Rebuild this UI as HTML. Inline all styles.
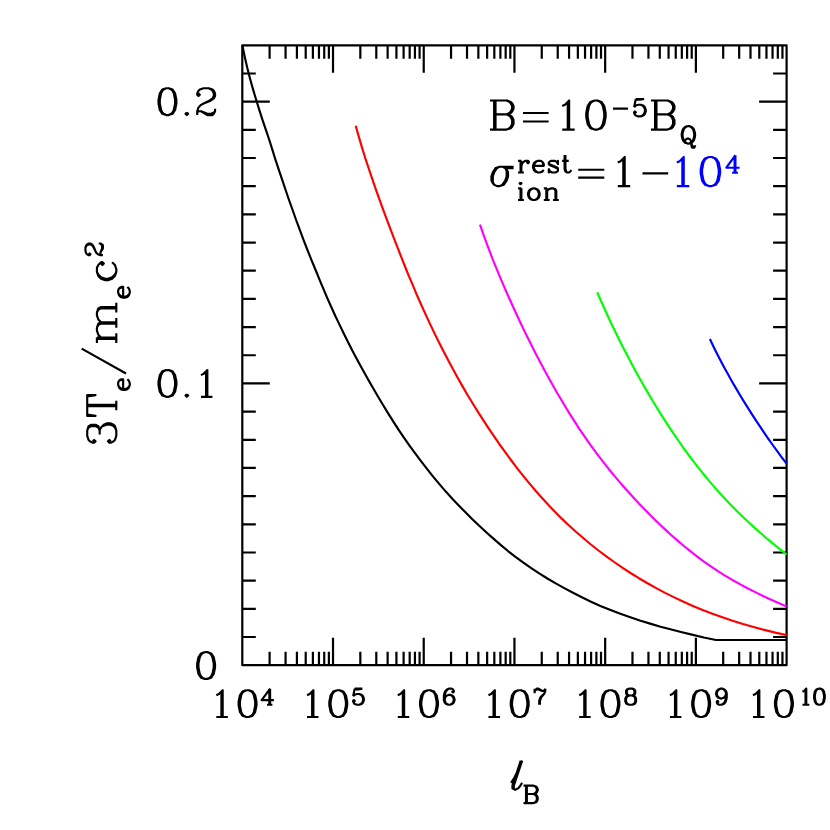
<!DOCTYPE html>
<html><head><meta charset="utf-8"><style>
html,body{margin:0;padding:0;background:#fff;}
svg{display:block;}
</style></head><body>
<svg width="830" height="830" viewBox="0 0 830 830">
<rect width="830" height="830" fill="#fff"/>
<rect x="242.3" y="45.3" width="544.30" height="619.90" fill="none" stroke="#000" stroke-width="2.2" stroke-linejoin="round"/>
<path d="M269.61 665.2v-13.5M269.61 45.3v13.5M285.58 665.2v-13.5M285.58 45.3v13.5M296.92 665.2v-13.5M296.92 45.3v13.5M305.71 665.2v-13.5M305.71 45.3v13.5M312.89 665.2v-13.5M312.89 45.3v13.5M318.96 665.2v-13.5M318.96 45.3v13.5M324.23 665.2v-13.5M324.23 45.3v13.5M328.87 665.2v-13.5M328.87 45.3v13.5M333.02 665.2v-27.5M333.02 45.3v27.5M360.33 665.2v-13.5M360.33 45.3v13.5M376.30 665.2v-13.5M376.30 45.3v13.5M387.63 665.2v-13.5M387.63 45.3v13.5M396.42 665.2v-13.5M396.42 45.3v13.5M403.61 665.2v-13.5M403.61 45.3v13.5M409.68 665.2v-13.5M409.68 45.3v13.5M414.94 665.2v-13.5M414.94 45.3v13.5M419.58 665.2v-13.5M419.58 45.3v13.5M423.73 665.2v-27.5M423.73 45.3v27.5M451.04 665.2v-13.5M451.04 45.3v13.5M467.02 665.2v-13.5M467.02 45.3v13.5M478.35 665.2v-13.5M478.35 45.3v13.5M487.14 665.2v-13.5M487.14 45.3v13.5M494.32 665.2v-13.5M494.32 45.3v13.5M500.40 665.2v-13.5M500.40 45.3v13.5M505.66 665.2v-13.5M505.66 45.3v13.5M510.30 665.2v-13.5M510.30 45.3v13.5M514.45 665.2v-27.5M514.45 45.3v27.5M541.76 665.2v-13.5M541.76 45.3v13.5M557.73 665.2v-13.5M557.73 45.3v13.5M569.07 665.2v-13.5M569.07 45.3v13.5M577.86 665.2v-13.5M577.86 45.3v13.5M585.04 665.2v-13.5M585.04 45.3v13.5M591.11 665.2v-13.5M591.11 45.3v13.5M596.38 665.2v-13.5M596.38 45.3v13.5M601.02 665.2v-13.5M601.02 45.3v13.5M605.17 665.2v-27.5M605.17 45.3v27.5M632.48 665.2v-13.5M632.48 45.3v13.5M648.45 665.2v-13.5M648.45 45.3v13.5M659.78 665.2v-13.5M659.78 45.3v13.5M668.57 665.2v-13.5M668.57 45.3v13.5M675.76 665.2v-13.5M675.76 45.3v13.5M681.83 665.2v-13.5M681.83 45.3v13.5M687.09 665.2v-13.5M687.09 45.3v13.5M691.73 665.2v-13.5M691.73 45.3v13.5M695.88 665.2v-27.5M695.88 45.3v27.5M723.19 665.2v-13.5M723.19 45.3v13.5M739.17 665.2v-13.5M739.17 45.3v13.5M750.50 665.2v-13.5M750.50 45.3v13.5M759.29 665.2v-13.5M759.29 45.3v13.5M766.47 665.2v-13.5M766.47 45.3v13.5M772.55 665.2v-13.5M772.55 45.3v13.5M777.81 665.2v-13.5M777.81 45.3v13.5M782.45 665.2v-13.5M782.45 45.3v13.5M242.3 637.02h13.5M786.6 637.02h-13.5M242.3 608.85h13.5M786.6 608.85h-13.5M242.3 580.67h13.5M786.6 580.67h-13.5M242.3 552.49h13.5M786.6 552.49h-13.5M242.3 524.31h13.5M786.6 524.31h-13.5M242.3 496.14h13.5M786.6 496.14h-13.5M242.3 467.96h13.5M786.6 467.96h-13.5M242.3 439.78h13.5M786.6 439.78h-13.5M242.3 411.60h13.5M786.6 411.60h-13.5M242.3 383.43h27.5M786.6 383.43h-27.5M242.3 355.25h13.5M786.6 355.25h-13.5M242.3 327.07h13.5M786.6 327.07h-13.5M242.3 298.90h13.5M786.6 298.90h-13.5M242.3 270.72h13.5M786.6 270.72h-13.5M242.3 242.54h13.5M786.6 242.54h-13.5M242.3 214.36h13.5M786.6 214.36h-13.5M242.3 186.19h13.5M786.6 186.19h-13.5M242.3 158.01h13.5M786.6 158.01h-13.5M242.3 129.83h13.5M786.6 129.83h-13.5M242.3 101.65h27.5M786.6 101.65h-27.5M242.3 73.48h13.5M786.6 73.48h-13.5" fill="none" stroke="#000" stroke-width="2.2"/>
<polyline points="242.4,45.4 244.7,56.6 247.2,67.6 250.0,78.4 252.9,88.9 256.0,99.3 259.2,109.6 262.5,119.8 265.9,129.9 269.3,140.0 272.5,150.1 275.6,160.2 279.0,170.3 282.4,180.4 285.8,190.5 289.2,200.5 292.8,210.5 296.3,220.5 300.0,230.4 303.7,240.3 307.5,250.1 311.4,259.8 315.4,269.5 319.3,279.2 323.3,288.7 327.3,298.1 331.5,307.5 335.7,316.8 340.1,325.9 344.5,335.0 349.0,344.0 353.6,352.9 358.3,361.7 363.1,370.4 367.9,379.1 372.9,387.7 377.8,396.2 382.9,404.7 388.0,413.1 393.2,421.4 398.5,429.6 403.9,437.6 409.5,445.6 415.2,453.4 421.0,461.1 427.0,468.9 433.1,476.6 439.4,484.1 445.8,491.6 452.3,498.7 459.0,505.7 465.7,512.6 472.6,519.4 479.5,526.0 486.5,532.5 493.7,538.9 500.9,545.1 508.3,551.3 515.8,557.1 523.4,562.7 531.2,568.1 539.2,573.4 547.4,578.5 555.7,583.4 564.3,588.1 573.0,592.7 581.9,597.3 591.0,601.7 600.4,605.9 609.9,609.8 619.7,613.6 629.6,617.1 639.8,620.5 650.1,623.6 660.6,626.7 671.3,629.5 682.0,632.3 692.9,634.9 703.8,637.5 716.0,640.0 786.6,640.0" fill="none" stroke="#000000" stroke-width="2.15" stroke-linejoin="round"/>
<polyline points="355.7,125.7 358.7,136.4 361.8,146.9 365.0,157.3 368.4,167.5 371.8,177.7 375.3,187.8 378.9,197.9 382.5,207.9 386.2,217.8 389.9,227.7 393.7,237.6 397.5,247.4 401.3,257.2 405.2,267.0 409.1,276.6 413.2,286.2 417.2,295.8 421.4,305.2 425.7,314.6 430.0,323.9 434.4,333.1 438.9,342.2 443.5,351.3 448.2,360.2 452.9,369.1 457.8,377.9 462.7,386.6 467.7,395.2 472.9,403.7 478.1,412.1 483.4,420.4 488.8,428.6 494.3,436.7 499.9,444.8 505.6,452.7 511.3,460.5 517.2,468.3 523.2,475.9 529.4,483.4 535.6,490.8 542.0,498.0 548.5,505.1 555.2,512.1 562.0,518.9 569.0,525.5 576.2,532.0 583.5,538.3 590.9,544.5 598.5,550.5 606.3,556.3 614.2,562.0 622.3,567.6 630.5,573.0 638.9,578.2 647.5,583.2 656.2,588.1 665.1,592.9 674.2,597.4 683.5,601.8 692.9,605.9 702.6,609.9 712.4,613.7 722.4,617.3 732.6,620.8 743.0,624.0 753.6,627.0 764.3,629.9 775.3,632.6 786.6,635.1" fill="none" stroke="#ff0000" stroke-width="2.15" stroke-linejoin="round"/>
<polyline points="480.0,224.6 483.0,233.3 486.1,241.8 489.3,250.3 492.5,258.8 495.9,267.1 499.3,275.4 502.8,283.6 506.3,291.7 509.9,299.8 513.5,307.8 517.2,315.8 520.9,323.7 524.7,331.6 528.6,339.4 532.5,347.2 536.4,354.9 540.4,362.6 544.5,370.2 548.6,377.8 552.8,385.3 557.0,392.7 561.4,400.0 565.7,407.3 570.2,414.6 574.7,421.7 579.3,428.8 584.0,435.7 588.8,442.6 593.7,449.4 598.7,456.1 603.8,462.7 608.9,469.2 614.2,475.6 619.5,481.9 625.0,488.2 630.5,494.3 636.1,500.4 641.8,506.4 647.5,512.3 653.4,518.2 659.3,523.9 665.3,529.6 671.4,535.2 677.6,540.6 683.9,546.0 690.3,551.2 696.9,556.3 703.6,561.3 710.5,566.1 717.5,570.8 724.6,575.3 731.9,579.7 739.4,583.9 747.0,588.0 754.7,591.9 762.5,595.7 770.5,599.4 778.6,603.0 786.6,606.5" fill="none" stroke="#ff00ff" stroke-width="2.15" stroke-linejoin="round"/>
<polyline points="597.2,292.2 600.7,300.3 604.3,308.3 607.9,316.3 611.6,324.2 615.4,332.0 619.2,339.7 623.1,347.5 627.1,355.1 631.1,362.7 635.1,370.2 639.3,377.7 643.4,385.1 647.7,392.4 652.0,399.7 656.4,407.0 660.8,414.1 665.3,421.2 669.9,428.2 674.6,435.1 679.3,442.0 684.1,448.8 689.0,455.5 694.0,462.1 699.1,468.6 704.2,475.0 709.5,481.4 714.9,487.6 720.3,493.7 725.9,499.8 731.6,505.7 737.3,511.5 743.2,517.2 749.2,522.8 755.2,528.4 761.4,533.8 767.6,539.2 774.0,544.4 780.4,549.6 786.6,554.5" fill="none" stroke="#00ff00" stroke-width="2.15" stroke-linejoin="round"/>
<polyline points="709.9,339.0 713.3,346.2 716.8,353.3 720.4,360.3 724.1,367.2 727.9,374.1 731.7,380.9 735.6,387.6 739.5,394.2 743.5,400.9 747.6,407.4 751.7,413.9 755.9,420.3 760.1,426.7 764.4,433.1 768.7,439.3 773.1,445.5 777.6,451.7 782.1,457.8 786.6,463.7" fill="none" stroke="#0000ff" stroke-width="2.15" stroke-linejoin="round"/>
<path d="M216.31 695.33L218.86 694.05L222.69 690.23L222.69 717.00M221.41 691.50L221.41 717.00M216.31 717.00L227.79 717.00M246.28 690.23L242.45 691.50L239.90 695.33L238.62 701.70L238.62 705.52L239.90 711.90L242.45 715.73L246.28 717.00L248.83 717.00L252.65 715.73L255.20 711.90L256.48 705.52L256.48 701.70L255.20 695.33L252.65 691.50L248.83 690.23L246.28 690.23M246.28 690.23L243.73 691.50L242.45 692.77L241.18 695.33L239.90 701.70L239.90 705.52L241.18 711.90L242.45 714.45L243.73 715.73L246.28 717.00M248.83 717.00L251.38 715.73L252.65 714.45L253.93 711.90L255.20 705.52L255.20 701.70L253.93 695.33L252.65 692.77L251.38 691.50L248.83 690.23M269.33 690.17L269.33 704.70M270.10 688.63L270.10 704.70M270.10 688.63L261.68 700.11L273.92 700.11M267.04 704.70L272.39 704.70M307.03 695.33L309.58 694.05L313.40 690.23L313.40 717.00M312.13 691.50L312.13 717.00M307.03 717.00L318.50 717.00M336.99 690.23L333.17 691.50L330.62 695.33L329.34 701.70L329.34 705.52L330.62 711.90L333.17 715.73L336.99 717.00L339.54 717.00L343.37 715.73L345.92 711.90L347.19 705.52L347.19 701.70L345.92 695.33L343.37 691.50L339.54 690.23L336.99 690.23M336.99 690.23L334.44 691.50L333.17 692.77L331.89 695.33L330.62 701.70L330.62 705.52L331.89 711.90L333.17 714.45L334.44 715.73L336.99 717.00M339.54 717.00L342.09 715.73L343.37 714.45L344.64 711.90L345.92 705.52L345.92 701.70L344.64 695.33L343.37 692.77L342.09 691.50L339.54 690.23M354.69 688.63L353.16 696.29M353.16 696.29L354.69 694.75L356.99 693.99L359.28 693.99L361.58 694.75L363.11 696.29L363.87 698.58L363.87 700.11L363.11 702.41L361.58 703.94L359.28 704.70L356.99 704.70L354.69 703.94L353.93 703.17L353.16 701.64L353.16 700.88L353.93 700.11L354.69 700.88L353.93 701.64M359.28 693.99L360.81 694.75L362.34 696.29L363.11 698.58L363.11 700.11L362.34 702.41L360.81 703.94L359.28 704.70M354.69 688.63L362.34 688.63M354.69 689.40L358.52 689.40L362.34 688.63M397.75 695.33L400.30 694.05L404.12 690.23L404.12 717.00M402.85 691.50L402.85 717.00M397.75 717.00L409.22 717.00M427.71 690.23L423.88 691.50L421.33 695.33L420.06 701.70L420.06 705.52L421.33 711.90L423.88 715.73L427.71 717.00L430.26 717.00L434.08 715.73L436.63 711.90L437.91 705.52L437.91 701.70L436.63 695.33L434.08 691.50L430.26 690.23L427.71 690.23M427.71 690.23L425.16 691.50L423.88 692.77L422.61 695.33L421.33 701.70L421.33 705.52L422.61 711.90L423.88 714.45L425.16 715.73L427.71 717.00M430.26 717.00L432.81 715.73L434.08 714.45L435.36 711.90L436.63 705.52L436.63 701.70L435.36 695.33L434.08 692.77L432.81 691.50L430.26 690.23M453.06 690.93L452.29 691.70L453.06 692.46L453.82 691.70L453.82 690.93L453.06 689.40L451.53 688.63L449.23 688.63L446.94 689.40L445.41 690.93L444.64 692.46L443.88 695.52L443.88 700.11L444.64 702.41L446.17 703.94L448.47 704.70L450.00 704.70L452.29 703.94L453.82 702.41L454.59 700.11L454.59 699.35L453.82 697.05L452.29 695.52L450.00 694.75L449.23 694.75L446.94 695.52L445.41 697.05L444.64 699.35M449.23 688.63L447.70 689.40L446.17 690.93L445.41 692.46L444.64 695.52L444.64 700.11L445.41 702.41L446.94 703.94L448.47 704.70M450.00 704.70L451.53 703.94L453.06 702.41L453.82 700.11L453.82 699.35L453.06 697.05L451.53 695.52L450.00 694.75M488.46 695.33L491.01 694.05L494.84 690.23L494.84 717.00M493.56 691.50L493.56 717.00M488.46 717.00L499.94 717.00M518.43 690.23L514.60 691.50L512.05 695.33L510.78 701.70L510.78 705.52L512.05 711.90L514.60 715.73L518.43 717.00L520.98 717.00L524.80 715.73L527.35 711.90L528.62 705.52L528.62 701.70L527.35 695.33L524.80 691.50L520.98 690.23L518.43 690.23M518.43 690.23L515.88 691.50L514.60 692.77L513.33 695.33L512.05 701.70L512.05 705.52L513.33 711.90L514.60 714.45L515.88 715.73L518.43 717.00M520.98 717.00L523.53 715.73L524.80 714.45L526.08 711.90L527.35 705.52L527.35 701.70L526.08 695.33L524.80 692.77L523.53 691.50L520.98 690.23M534.60 688.63L534.60 693.23M534.60 691.70L535.36 690.17L536.89 688.63L538.42 688.63L542.25 690.93L543.78 690.93L544.54 690.17L545.31 688.63M535.36 690.17L536.89 689.40L538.42 689.40L542.25 690.93M545.31 688.63L545.31 690.93L544.54 693.23L541.48 697.05L540.72 698.58L539.95 700.88L539.95 704.70M544.54 693.23L540.72 697.05L539.95 698.58L539.19 700.88L539.19 704.70M579.18 695.33L581.73 694.05L585.55 690.23L585.55 717.00M584.28 691.50L584.28 717.00M579.18 717.00L590.65 717.00M609.14 690.23L605.32 691.50L602.77 695.33L601.49 701.70L601.49 705.52L602.77 711.90L605.32 715.73L609.14 717.00L611.69 717.00L615.52 715.73L618.07 711.90L619.34 705.52L619.34 701.70L618.07 695.33L615.52 691.50L611.69 690.23L609.14 690.23M609.14 690.23L606.59 691.50L605.32 692.77L604.04 695.33L602.77 701.70L602.77 705.52L604.04 711.90L605.32 714.45L606.59 715.73L609.14 717.00M611.69 717.00L614.24 715.73L615.52 714.45L616.79 711.90L618.07 705.52L618.07 701.70L616.79 695.33L615.52 692.77L614.24 691.50L611.69 690.23M629.14 688.63L626.84 689.40L626.08 690.93L626.08 693.23L626.84 694.75L629.14 695.52L632.20 695.52L634.49 694.75L635.26 693.23L635.26 690.93L634.49 689.40L632.20 688.63L629.14 688.63M629.14 688.63L627.61 689.40L626.84 690.93L626.84 693.23L627.61 694.75L629.14 695.52M632.20 695.52L633.73 694.75L634.49 693.23L634.49 690.93L633.73 689.40L632.20 688.63M629.14 695.52L626.84 696.29L626.08 697.05L625.31 698.58L625.31 701.64L626.08 703.17L626.84 703.94L629.14 704.70L632.20 704.70L634.49 703.94L635.26 703.17L636.02 701.64L636.02 698.58L635.26 697.05L634.49 696.29L632.20 695.52M629.14 695.52L627.61 696.29L626.84 697.05L626.08 698.58L626.08 701.64L626.84 703.17L627.61 703.94L629.14 704.70M632.20 704.70L633.73 703.94L634.49 703.17L635.26 701.64L635.26 698.58L634.49 697.05L633.73 696.29L632.20 695.52M669.90 695.33L672.45 694.05L676.27 690.23L676.27 717.00M675.00 691.50L675.00 717.00M669.90 717.00L681.37 717.00M699.86 690.23L696.03 691.50L693.48 695.33L692.21 701.70L692.21 705.52L693.48 711.90L696.03 715.73L699.86 717.00L702.41 717.00L706.23 715.73L708.78 711.90L710.06 705.52L710.06 701.70L708.78 695.33L706.23 691.50L702.41 690.23L699.86 690.23M699.86 690.23L697.31 691.50L696.03 692.77L694.76 695.33L693.48 701.70L693.48 705.52L694.76 711.90L696.03 714.45L697.31 715.73L699.86 717.00M702.41 717.00L704.96 715.73L706.23 714.45L707.51 711.90L708.78 705.52L708.78 701.70L707.51 695.33L706.23 692.77L704.96 691.50L702.41 690.23M725.97 693.99L725.21 696.29L723.68 697.82L721.38 698.58L720.62 698.58L718.32 697.82L716.79 696.29L716.03 693.99L716.03 693.23L716.79 690.93L718.32 689.40L720.62 688.63L722.15 688.63L724.44 689.40L725.97 690.93L726.74 693.23L726.74 697.82L725.97 700.88L725.21 702.41L723.68 703.94L721.38 704.70L719.09 704.70L717.56 703.94L716.79 702.41L716.79 701.64L717.56 700.88L718.32 701.64L717.56 702.41M720.62 698.58L719.09 697.82L717.56 696.29L716.79 693.99L716.79 693.23L717.56 690.93L719.09 689.40L720.62 688.63M722.15 688.63L723.68 689.40L725.21 690.93L725.97 693.23L725.97 697.82L725.21 700.88L724.44 702.41L722.91 703.94L721.38 704.70M752.96 695.33L755.51 694.05L759.34 690.23L759.34 717.00M758.06 691.50L758.06 717.00M752.96 717.00L764.44 717.00M782.62 690.23L778.80 691.50L776.25 695.33L774.98 701.70L774.98 705.52L776.25 711.90L778.80 715.73L782.62 717.00L785.17 717.00L789.00 715.73L791.55 711.90L792.82 705.52L792.82 701.70L791.55 695.33L789.00 691.50L785.17 690.23L782.62 690.23M782.62 690.23L780.07 691.50L778.80 692.77L777.52 695.33L776.25 701.70L776.25 705.52L777.52 711.90L778.80 714.45L780.07 715.73L782.62 717.00M785.17 717.00L787.73 715.73L789.00 714.45L790.27 711.90L791.55 705.52L791.55 701.70L790.27 695.33L789.00 692.77L787.73 691.50L785.17 690.23M802.46 691.70L803.99 690.93L806.28 688.63L806.28 704.70M805.52 689.40L805.52 704.70M802.46 704.70L809.34 704.70M818.69 688.63L816.39 689.40L814.86 691.70L814.10 695.52L814.10 697.82L814.86 701.64L816.39 703.94L818.69 704.70L820.22 704.70L822.51 703.94L824.04 701.64L824.81 697.82L824.81 695.52L824.04 691.70L822.51 689.40L820.22 688.63L818.69 688.63M818.69 688.63L817.16 689.40L816.39 690.17L815.62 691.70L814.86 695.52L814.86 697.82L815.62 701.64L816.39 703.17L817.16 703.94L818.69 704.70M820.22 704.70L821.75 703.94L822.51 703.17L823.28 701.64L824.04 697.82L824.04 695.52L823.28 691.70L822.51 690.17L821.75 689.40L820.22 688.63M166.17 88.28L162.35 89.55L159.80 93.38L158.52 99.75L158.52 103.58L159.80 109.95L162.35 113.78L166.17 115.05L168.72 115.05L172.55 113.78L175.10 109.95L176.38 103.58L176.38 99.75L175.10 93.38L172.55 89.55L168.72 88.28L166.17 88.28M166.17 88.28L163.62 89.55L162.35 90.83L161.07 93.38L159.80 99.75L159.80 103.58L161.07 109.95L162.35 112.50L163.62 113.78L166.17 115.05M168.72 115.05L171.27 113.78L172.55 112.50L173.82 109.95L175.10 103.58L175.10 99.75L173.82 93.38L172.55 90.83L171.27 89.55L168.72 88.28M186.80 112.50L185.53 113.78L186.80 115.05L188.08 113.78L186.80 112.50M166.17 370.05L162.35 371.33L159.80 375.15L158.52 381.53L158.52 385.35L159.80 391.73L162.35 395.55L166.17 396.83L168.72 396.83L172.55 395.55L175.10 391.73L176.38 385.35L176.38 381.53L175.10 375.15L172.55 371.33L168.72 370.05L166.17 370.05M166.17 370.05L163.62 371.33L162.35 372.60L161.07 375.15L159.80 381.53L159.80 385.35L161.07 391.73L162.35 394.28L163.62 395.55L166.17 396.83M168.72 396.83L171.27 395.55L172.55 394.28L173.82 391.73L175.10 385.35L175.10 381.53L173.82 375.15L172.55 372.60L171.27 371.33L168.72 370.05M186.80 394.28L185.53 395.55L186.80 396.83L188.08 395.55L186.80 394.28M198.50 93.38L199.78 94.65L198.50 95.93L197.22 94.65L197.22 93.38L198.50 90.83L199.78 89.55L203.60 88.28L208.70 88.28L212.53 89.55L213.80 90.83L215.08 93.38L215.08 95.93L213.80 98.48L209.97 101.03L203.60 103.58L201.05 104.85L198.50 107.40L197.22 111.23L197.22 115.05M208.70 88.28L211.25 89.55L212.53 90.83L213.80 93.38L213.80 95.93L212.53 98.48L208.70 101.03L203.60 103.58M197.22 112.50L198.50 111.23L201.05 111.23L207.43 113.78L211.25 113.78L213.80 112.50L215.08 111.23M201.05 111.23L207.43 115.05L212.53 115.05L213.80 113.78L215.08 111.23L215.08 108.68M200.96 375.15L203.51 373.88L207.34 370.05L207.34 396.83M206.06 371.33L206.06 396.83M200.96 396.83L212.44 396.83M204.82 652.13L201.00 653.40L198.45 657.23L197.17 663.60L197.17 667.43L198.45 673.80L201.00 677.63L204.82 678.90L207.38 678.90L211.20 677.63L213.75 673.80L215.03 667.43L215.03 663.60L213.75 657.23L211.20 653.40L207.38 652.13L204.82 652.13M204.82 652.13L202.28 653.40L201.00 654.68L199.72 657.23L198.45 663.60L198.45 667.43L199.72 673.80L201.00 676.35L202.28 677.63L204.82 678.90M207.38 678.90L209.92 677.63L211.20 676.35L212.47 673.80L213.75 667.43L213.75 663.60L212.47 657.23L211.20 654.68L209.92 653.40L207.38 652.13" fill="none" stroke="#000" stroke-width="2.15" stroke-linejoin="round" stroke-linecap="butt"/>
<path d="M92.75 441.36L94.14 439.98L95.53 441.36L94.14 442.75L92.75 442.75L89.98 441.36L88.60 439.98L87.22 435.82L87.22 430.28L88.60 426.12L91.37 424.74L95.53 424.74L98.30 426.12L99.68 430.28L99.68 434.44M87.22 430.28L88.60 427.51L91.37 426.12L95.53 426.12L98.30 427.51L99.68 430.28M99.68 430.28L101.06 427.51L103.83 424.74L106.60 423.36L110.76 423.36L113.53 424.74L114.91 426.12L116.30 430.28L116.30 435.82L114.91 439.98L113.53 441.36L110.76 442.75L109.38 442.75L107.99 441.36L109.38 439.98L110.76 441.36M102.45 426.12L106.60 424.74L110.76 424.74L113.53 426.12L114.91 427.51L116.30 430.28M87.22 406.19L116.30 406.19M87.22 404.81L116.30 404.81M87.22 414.50L95.53 415.89L87.22 415.89L87.22 395.11L95.53 395.11L87.22 396.50M116.30 410.35L116.30 400.65M123.15 389.17L123.15 379.20L121.49 379.20L119.83 380.03L119.00 380.86L118.17 382.52L118.17 385.02L119.00 387.51L120.66 389.17L123.15 390.00L124.81 390.00L127.31 389.17L128.97 387.51L129.80 385.02L129.80 383.35L128.97 380.86L127.31 379.20M123.15 380.03L120.66 380.03L119.00 380.86M118.17 385.02L119.00 386.68L120.66 388.34L123.15 389.17L124.81 389.17L127.31 388.34L128.97 386.68L129.80 385.02M81.67 348.64L126.00 373.56M96.91 338.88L116.30 338.88M96.91 337.49L116.30 337.49M101.06 337.49L98.30 334.72L96.91 330.57L96.91 327.80L98.30 323.64L101.06 322.26L116.30 322.26M96.91 327.80L98.30 325.03L101.06 323.64L116.30 323.64M101.06 322.26L98.30 319.49L96.91 315.33L96.91 312.56L98.30 308.41L101.06 307.02L116.30 307.02M96.91 312.56L98.30 309.79L101.06 308.41L116.30 308.41M96.91 343.03L96.91 337.49M116.30 343.03L116.30 333.34M116.30 327.80L116.30 318.10M116.30 312.56L116.30 302.87M123.15 296.87L123.15 286.90L121.49 286.90L119.83 287.73L119.00 288.56L118.17 290.22L118.17 292.72L119.00 295.21L120.66 296.87L123.15 297.70L124.81 297.70L127.31 296.87L128.97 295.21L129.80 292.72L129.80 291.05L128.97 288.56L127.31 286.90M123.15 287.73L120.66 287.73L119.00 288.56M118.17 292.72L119.00 294.38L120.66 296.04L123.15 296.87L124.81 296.87L127.31 296.04L128.97 294.38L129.80 292.72M101.06 263.53L102.45 264.92L103.83 263.53L102.45 262.15L101.06 262.15L98.30 264.92L96.91 267.69L96.91 271.84L98.30 276.00L101.06 278.77L105.22 280.15L107.99 280.15L112.14 278.77L114.91 276.00L116.30 271.84L116.30 269.07L114.91 264.92L112.14 262.15M96.91 271.84L98.30 274.61L101.06 277.38L105.22 278.77L107.99 278.77L112.14 277.38L114.91 274.61L116.30 271.84M88.77 254.34L89.60 253.50L90.43 254.34L89.60 255.17L88.77 255.17L87.11 254.34L86.28 253.50L85.45 251.01L85.45 247.69L86.28 245.19L87.11 244.36L88.77 243.53L90.43 243.53L92.10 244.36L93.76 246.86L95.42 251.01L96.25 252.67L97.91 254.34L100.41 255.17L102.90 255.17M85.45 247.69L86.28 246.03L87.11 245.19L88.77 244.36L90.43 244.36L92.10 245.19L93.76 247.69L95.42 251.01M101.24 255.17L100.41 254.34L100.41 252.67L102.07 248.52L102.07 246.03L101.24 244.36L100.41 243.53M100.41 252.67L102.90 248.52L102.90 245.19L102.07 244.36L100.41 243.53L98.74 243.53" fill="none" stroke="#000" stroke-width="2.15" stroke-linejoin="round" stroke-linecap="butt"/>
<path d="M494.13 100.51L494.13 129.60M495.52 100.51L495.52 129.60M489.98 100.51L506.60 100.51L510.75 101.90L512.14 103.28L513.52 106.05L513.52 108.82L512.14 111.59L510.75 112.98L506.60 114.36M506.60 100.51L509.37 101.90L510.75 103.28L512.14 106.05L512.14 108.82L510.75 111.59L509.37 112.98L506.60 114.36M495.52 114.36L506.60 114.36L510.75 115.75L512.14 117.13L513.52 119.91L513.52 124.06L512.14 126.83L510.75 128.22L506.60 129.60L489.98 129.60M506.60 114.36L509.37 115.75L510.75 117.13L512.14 119.91L512.14 124.06L510.75 126.83L509.37 128.22L506.60 129.60M562.22 106.05L564.99 104.67L569.14 100.51L569.14 129.60M567.76 101.90L567.76 129.60M562.22 129.60L574.68 129.60M594.57 100.51L590.41 101.90L587.64 106.05L586.25 112.98L586.25 117.13L587.64 124.06L590.41 128.22L594.57 129.60L597.34 129.60L601.49 128.22L604.26 124.06L605.65 117.13L605.65 112.98L604.26 106.05L601.49 101.90L597.34 100.51L594.57 100.51M594.57 100.51L591.80 101.90L590.41 103.28L589.03 106.05L587.64 112.98L587.64 117.13L589.03 124.06L590.41 126.83L591.80 128.22L594.57 129.60M597.34 129.60L600.11 128.22L601.49 126.83L602.88 124.06L604.26 117.13L604.26 112.98L602.88 106.05L601.49 103.28L600.11 101.90L597.34 100.51M635.80 98.95L634.13 107.26M634.13 107.26L635.80 105.60L638.29 104.77L640.78 104.77L643.27 105.60L644.94 107.26L645.77 109.75L645.77 111.41L644.94 113.91L643.27 115.57L640.78 116.40L638.29 116.40L635.80 115.57L634.96 114.74L634.13 113.08L634.13 112.24L634.96 111.41L635.80 112.24L634.96 113.08M640.78 104.77L642.44 105.60L644.11 107.26L644.94 109.75L644.94 111.41L644.11 113.91L642.44 115.57L640.78 116.40M635.80 98.95L644.11 98.95M635.80 99.78L639.95 99.78L644.11 98.95M655.08 100.51L655.08 129.60M656.47 100.51L656.47 129.60M650.93 100.51L667.55 100.51L671.70 101.90L673.09 103.28L674.47 106.05L674.47 108.82L673.09 111.59L671.70 112.98L667.55 114.36M667.55 100.51L670.32 101.90L671.70 103.28L673.09 106.05L673.09 108.82L671.70 111.59L670.32 112.98L667.55 114.36M656.47 114.36L667.55 114.36L671.70 115.75L673.09 117.13L674.47 119.91L674.47 124.06L673.09 126.83L671.70 128.22L667.55 129.60L650.93 129.60M667.55 114.36L670.32 115.75L671.70 117.13L673.09 119.91L673.09 124.06L671.70 126.83L670.32 128.22L667.55 129.60M687.57 126.10L685.08 126.93L683.41 128.59L682.58 130.25L681.75 133.58L681.75 136.07L682.58 139.39L683.41 141.06L685.08 142.72L687.57 143.55L689.23 143.55L691.72 142.72L693.39 141.06L694.22 139.39L695.05 136.07L695.05 133.58L694.22 130.25L693.39 128.59L691.72 126.93L689.23 126.10L687.57 126.10M687.57 126.10L685.91 126.93L684.25 128.59L683.41 130.25L682.58 133.58L682.58 136.07L683.41 139.39L684.25 141.06L685.91 142.72L687.57 143.55M689.23 143.55L690.89 142.72L692.55 141.06L693.39 139.39L694.22 136.07L694.22 133.58L693.39 130.25L692.55 128.59L690.89 126.93L689.23 126.10M685.08 141.89L685.08 141.06L685.91 139.39L687.57 138.56L688.40 138.56L690.06 139.39L690.89 141.06L691.72 146.87L692.55 147.70L694.22 147.70L695.05 146.04L695.05 145.21M690.89 141.06L691.72 144.38L692.55 146.04L693.39 146.87L694.22 146.87L695.05 146.04M513.58 166.71L499.73 166.71L495.57 168.09L492.81 172.25L491.42 176.41L491.42 180.56L492.81 183.33L494.19 184.72L496.96 186.10L499.73 186.10L503.88 184.72L506.65 180.56L508.04 176.41L508.04 172.25L506.65 169.48L505.27 168.09L502.50 166.71M499.73 166.71L496.96 168.09L494.19 172.25L492.81 176.41L492.81 181.94L494.19 184.72M499.73 186.10L502.50 184.72L505.27 180.56L506.65 176.41L506.65 170.87L505.27 168.09M505.27 168.09L513.58 168.09M617.77 162.56L620.54 161.17L624.69 157.01L624.69 186.10M623.31 158.40L623.31 186.10M617.77 186.10L630.23 186.10M520.56 160.82L520.56 172.45M521.39 160.82L521.39 172.45M521.39 165.80L522.22 163.31L523.88 161.65L525.54 160.82L528.03 160.82L528.87 161.65L528.87 162.48L528.03 163.31L527.20 162.48L528.03 161.65M518.06 160.82L521.39 160.82M518.06 172.45L523.88 172.45M533.85 165.80L543.82 165.80L543.82 164.14L542.99 162.48L542.16 161.65L540.50 160.82L538.01 160.82L535.51 161.65L533.85 163.31L533.02 165.80L533.02 167.46L533.85 169.96L535.51 171.62L538.01 172.45L539.67 172.45L542.16 171.62L543.82 169.96M542.99 165.80L542.99 163.31L542.16 161.65M538.01 160.82L536.34 161.65L534.68 163.31L533.85 165.80L533.85 167.46L534.68 169.96L536.34 171.62L538.01 172.45M557.12 162.48L557.95 160.82L557.95 164.14L557.12 162.48L556.29 161.65L554.63 160.82L551.30 160.82L549.64 161.65L548.81 162.48L548.81 164.14L549.64 164.97L551.30 165.80L555.46 167.46L557.12 168.29L557.95 169.13M548.81 163.31L549.64 164.14L551.30 164.97L555.46 166.63L557.12 167.46L557.95 168.29L557.95 170.79L557.12 171.62L555.46 172.45L552.13 172.45L550.47 171.62L549.64 170.79L548.81 169.13L548.81 172.45L549.64 170.79M564.60 155.00L564.60 169.13L565.43 171.62L567.09 172.45L568.75 172.45L570.41 171.62L571.25 169.96M565.43 155.00L565.43 169.13L566.26 171.62L567.09 172.45M562.10 160.82L568.75 160.82M520.55 182.55L519.72 183.38L520.55 184.21L521.39 183.38L520.55 182.55M520.55 188.37L520.55 200.00M521.39 188.37L521.39 200.00M518.06 188.37L521.39 188.37M518.06 200.00L523.88 200.00M533.02 188.37L530.53 189.20L528.86 190.86L528.03 193.35L528.03 195.01L528.86 197.51L530.53 199.17L533.02 200.00L534.68 200.00L537.17 199.17L538.84 197.51L539.67 195.01L539.67 193.35L538.84 190.86L537.17 189.20L534.68 188.37L533.02 188.37M533.02 188.37L531.36 189.20L529.70 190.86L528.86 193.35L528.86 195.01L529.70 197.51L531.36 199.17L533.02 200.00M534.68 200.00L536.34 199.17L538.01 197.51L538.84 195.01L538.84 193.35L538.01 190.86L536.34 189.20L534.68 188.37M546.32 188.37L546.32 200.00M547.15 188.37L547.15 200.00M547.15 190.86L548.81 189.20L551.30 188.37L552.96 188.37L555.46 189.20L556.29 190.86L556.29 200.00M552.96 188.37L554.63 189.20L555.46 190.86L555.46 200.00M543.82 188.37L547.15 188.37M543.82 200.00L549.64 200.00M552.96 200.00L558.78 200.00" fill="none" stroke="#000" stroke-width="2.15" stroke-linejoin="round" stroke-linecap="butt"/>
<path d="M523 113.0h25.6M523 121.5h25.6M612.95 108.6h15.1M578.2 169.7h26.1M578.2 177.6h26.1M642.5 173.3h25.7" fill="none" stroke="#000" stroke-width="2.15"/>
<path d="M676.82 162.56L679.59 161.17L683.74 157.01L683.74 186.10M682.36 158.40L682.36 186.10M676.82 186.10L689.28 186.10M709.01 157.01L704.86 158.40L702.09 162.56L700.70 169.48L700.70 173.63L702.09 180.56L704.86 184.72L709.01 186.10L711.78 186.10L715.94 184.72L718.71 180.56L720.10 173.63L720.10 169.48L718.71 162.56L715.94 158.40L711.78 157.01L709.01 157.01M709.01 157.01L706.25 158.40L704.86 159.78L703.48 162.56L702.09 169.48L702.09 173.63L703.48 180.56L704.86 183.33L706.25 184.72L709.01 186.10M711.78 186.10L714.55 184.72L715.94 183.33L717.32 180.56L718.71 173.63L718.71 169.48L717.32 162.56L715.94 159.78L714.55 158.40L711.78 157.01M734.61 156.91L734.61 172.70M735.44 155.25L735.44 172.70M735.44 155.25L726.30 167.71L739.60 167.71M732.12 172.70L737.94 172.70" fill="none" stroke="#0000ff" stroke-width="2.15" stroke-linejoin="round" stroke-linecap="butt"/>
<path d="M511.06 782.88L513.83 778.72L516.60 773.18M520.75 760.71L512.45 785.64L512.45 788.41L515.22 789.80L517.99 788.41L519.37 787.03L522.14 782.88M522.14 760.71L513.83 785.64L513.83 788.41L515.22 789.80M526.03 785.65L526.03 803.10M526.86 785.65L526.86 803.10M523.54 785.65L533.51 785.65L536.00 786.48L536.83 787.31L537.66 788.97L537.66 790.63L536.83 792.30L536.00 793.13L533.51 793.96M533.51 785.65L535.17 786.48L536.00 787.31L536.83 788.97L536.83 790.63L536.00 792.30L535.17 793.13L533.51 793.96M526.86 793.96L533.51 793.96L536.00 794.79L536.83 795.62L537.66 797.28L537.66 799.78L536.83 801.44L536.00 802.27L533.51 803.10L523.54 803.10M533.51 793.96L535.17 794.79L536.00 795.62L536.83 797.28L536.83 799.78L536.00 801.44L535.17 802.27L533.51 803.10" fill="none" stroke="#000" stroke-width="2.15" stroke-linejoin="round" stroke-linecap="butt"/>
</svg>
</body></html>
